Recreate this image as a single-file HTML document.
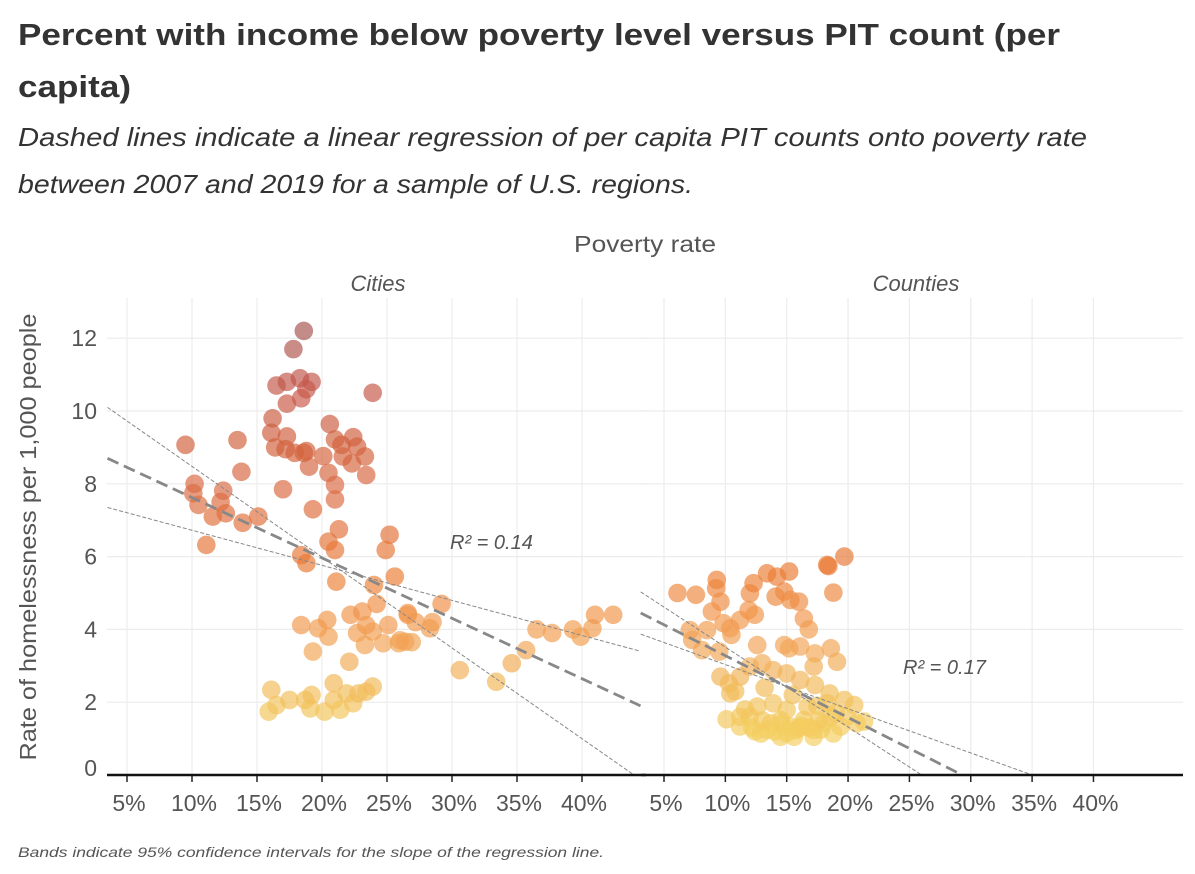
<!DOCTYPE html>
<html><head><meta charset="utf-8"><style>
body{margin:0;background:#fff;width:1195px;height:874px;overflow:hidden;font-family:"Liberation Sans",sans-serif}
svg{display:block}
</style></head><body>
<svg width="1195" height="874">
<text x="18" y="45" font-size="31" font-weight="bold" fill="#333" textLength="1042" lengthAdjust="spacingAndGlyphs">Percent with income below poverty level versus PIT count (per</text>
<text x="18" y="97" font-size="31" font-weight="bold" fill="#333" textLength="113" lengthAdjust="spacingAndGlyphs">capita)</text>
<text x="18" y="146" font-size="26" font-style="italic" fill="#333" textLength="1069" lengthAdjust="spacingAndGlyphs">Dashed lines indicate a linear regression of per capita PIT counts onto poverty rate</text>
<text x="18" y="193" font-size="26" font-style="italic" fill="#333" textLength="675" lengthAdjust="spacingAndGlyphs">between 2007 and 2019 for a sample of U.S. regions.</text>
<text x="645" y="252" font-size="23" fill="#555" text-anchor="middle" textLength="142" lengthAdjust="spacingAndGlyphs">Poverty rate</text>
<text x="378" y="291" font-size="22" font-style="italic" fill="#555" text-anchor="middle">Cities</text>
<text x="916" y="291" font-size="22" font-style="italic" fill="#555" text-anchor="middle">Counties</text>
<text transform="translate(36,537) rotate(-90)" font-size="23" fill="#555" text-anchor="middle" textLength="447" lengthAdjust="spacingAndGlyphs">Rate of homelessness per 1,000 people</text>
<g id="plot"></g>
<text x="18" y="857" font-size="14" font-style="italic" fill="#555" textLength="586" lengthAdjust="spacingAndGlyphs">Bands indicate 95% confidence intervals for the slope of the regression line.</text>
</svg>
<script>
const xTicks=[5,10,15,20,25,30,35,40];
const yTicks=[0,2,4,6,8,10,12];
const citiesX=[9.5,18.6,17.8,16.5,17.3,18.3,19.2,18.8,18.4,17.3,23.9,16.2,16.1,17.3,16.4,17.2,17.9,18.6,18.8,19.0,20.1,20.6,21.0,21.5,21.6,22.4,22.7,22.3,23.3,23.4,20.5,21.0,21.0,17.0,19.3,13.5,13.8,10.2,10.1,10.5,11.6,12.2,12.4,12.6,13.9,15.1,11.1,21.3,20.5,21.0,18.4,18.8,21.1,25.2,24.9,25.6,24.0,24.2,18.4,19.3,19.7,20.4,20.5,22.2,22.1,22.7,23.1,23.4,23.3,23.9,24.7,25.1,25.9,26.6,26.4,16.1,15.9,16.5,17.5,18.7,19.1,19.2,20.2,20.9,20.9,21.4,21.9,22.4,22.8,23.4,23.9,29.2,26.6,27.2,28.5,28.3,26.0,26.9,30.6,33.4,34.6,35.7,36.5,37.7,39.3,39.9,40.8,41.0,42.4];
const citiesY=[9.07,12.2,11.7,10.7,10.8,10.9,10.8,10.6,10.35,10.2,10.5,9.8,9.4,9.3,9.0,8.95,8.85,8.85,8.9,8.47,8.76,9.64,9.22,9.07,8.75,9.28,9.02,8.56,8.75,8.24,8.3,7.97,7.57,7.85,7.3,9.2,8.33,8.0,7.74,7.42,7.1,7.5,7.81,7.19,6.93,7.1,6.32,6.75,6.41,6.18,6.04,5.82,5.31,6.6,6.18,5.45,5.22,4.7,4.12,3.39,4.03,4.26,3.8,4.4,3.11,3.9,4.49,4.12,3.57,3.94,3.62,4.12,3.62,4.4,3.66,2.34,1.74,1.92,2.06,2.06,1.83,2.2,1.74,2.52,2.06,1.79,2.24,1.97,2.24,2.29,2.43,4.7,4.45,4.2,4.2,4.03,3.7,3.65,2.88,2.56,3.07,3.43,4.0,3.9,4.0,3.8,4.03,4.4,4.4];
const countiesX=[6.1,7.6,9.3,9.25,9.6,8.9,9.85,10.4,10.5,11.2,12.0,12.3,11.9,12.4,13.4,14.2,15.2,14.8,14.1,15.3,16.0,18.3,18.4,19.7,18.8,16.4,16.8,7.1,7.3,8.1,8.5,9.5,12.6,14.8,15.2,16.1,17.3,18.6,19.1,17.2,9.6,10.3,10.4,11.2,12.0,13.0,13.9,15.0,16.1,17.3,18.5,19.7,20.5,21.3,10.1,11.2,12.0,12.9,13.7,14.5,15.3,15.6,16.4,17.2,18.0,18.8,19.4,19.9,20.7,12.6,13.9,15.0,16.7,18.3,11.2,14.5,13.4,15.8,17.2,14.0,16.0,17.8,12.2,19.0,10.8,13.2,15.5,17.5,13.0,14.6,16.2,17.6,18.6,12.4,15.0,16.8,11.6];
const countiesY=[5.0,4.95,5.36,5.13,4.76,4.49,4.17,4.03,3.85,4.26,4.99,5.27,4.53,4.40,5.54,5.45,5.59,5.04,4.9,4.81,4.76,5.77,5.74,6.0,5.01,4.3,4.0,3.98,3.71,3.43,3.98,3.39,3.57,3.57,3.48,3.53,3.34,3.48,3.11,2.98,2.70,2.52,2.24,2.70,2.98,3.07,2.88,2.79,2.61,2.47,2.24,2.06,1.92,1.47,1.53,1.33,1.6,1.14,1.42,1.05,1.33,1.05,1.51,1.24,1.42,1.14,1.33,1.6,1.42,1.88,1.97,1.79,1.88,1.97,1.6,1.51,1.24,1.24,1.05,1.2,1.3,1.25,1.3,1.7,2.3,2.4,2.2,1.9,1.5,1.4,1.35,1.5,1.6,1.2,1.15,1.3,1.8];
// regression lines: [x0, y0, x1, y1] in data units
const citiesFit=[3.5,8.7,44.5,1.9];
const citiesHi=[3.5,10.1,44,0];
const citiesLo=[3.5,7.35,44.5,3.4];
const countiesFit=[3.1,4.45,29.3,0];
const countiesHi=[3.1,5.03,26,0];
const countiesLo=[3.1,3.87,35,0];
const r2Labels=["R² = 0.14","R² = 0.17"];

const NS="http://www.w3.org/2000/svg";
const plot=document.getElementById('plot');
function mk(tag,attrs,parent){const e=document.createElementNS(NS,tag);for(const k in attrs)e.setAttribute(k,attrs[k]);(parent||plot).appendChild(e);return e;}
const yScale=v=>775-36.4*v;
const panels=[
 {name:'cities',x0:107,x1:646,px:p=>127+(p-5)*13,X:citiesX,Y:citiesY,fit:citiesFit,hi:citiesHi,lo:citiesLo,r2x:450,r2y:549,r2:r2Labels[0]},
 {name:'counties',x0:641,x1:1183,px:p=>664+(p-5)*12.27,X:countiesX,Y:countiesY,fit:countiesFit,hi:countiesHi,lo:countiesLo,r2x:903,r2y:674,r2:r2Labels[1]}
];
const stops=[[1.2,[243,206,96]],[2.2,[242,190,90]],[3.5,[242,165,86]],[4.5,[240,148,74]],[5.5,[236,125,53]],[6.5,[228,116,58]],[8,[217,106,69]],[9,[210,98,60]],[10.5,[199,88,74]],[12.2,[166,85,80]]];
function col(v){if(v<=stops[0][0])return 'rgb('+stops[0][1]+')';for(let i=1;i<stops.length;i++){if(v<=stops[i][0]){const a=stops[i-1],b=stops[i],t=(v-a[0])/(b[0]-a[0]);return 'rgb('+a[1].map((c,j)=>Math.round(c+(b[1][j]-c)*t)).join(',')+')';}}return 'rgb('+stops[stops.length-1][1]+')';}
yTicks.forEach(t=>{
 const tl=mk('text',{x:97,y:yScale(t)+8+(t===0?-7:0),'font-size':23,fill:'#555','text-anchor':'end'});
 
 
 tl.textContent=t;
});
panels.forEach(P=>{
 const g=mk('g',{});
 
 
 yTicks.forEach(t=>{if(t===0)return;const l=mk('line',{x1:P.x0,x2:P.x1,y1:yScale(t),y2:yScale(t),stroke:'#ececec','stroke-width':1.2},g);
  
  });
 xTicks.forEach(t=>{const x=P.px(t);const l=mk('line',{x1:x,x2:x,y1:298,y2:775,stroke:'#ececec','stroke-width':1.2},g);
  
  
  const tk=mk('line',{x1:x,x2:x,y1:775,y2:782,stroke:'#222','stroke-width':1.5},g);
  
  
  const tl=mk('text',{x:x+2,y:811,'font-size':23,fill:'#555','text-anchor':'middle'},g);
  
  
  tl.textContent=t+'%';});
 P.X.forEach((p,i)=>{const c=mk('circle',{cx:P.px(p),cy:yScale(P.Y[i]),r:9.3,fill:col(P.Y[i]),'fill-opacity':0.68},g);
  
  });
 const clip=(a)=>{let [xa,ya,xb,yb]=a;return [P.px(xa),yScale(ya),P.px(xb),yScale(yb)];};
 [[P.hi,1,'4 2','upper-ci-line'],[P.lo,1,'4 2','lower-ci-line'],[P.fit,2.8,'12 6','regression-line']].forEach(([d,w,da,nm])=>{
  const c=clip(d);const l=mk('line',{x1:c[0],y1:c[1],x2:c[2],y2:c[3],stroke:'#888','stroke-width':w,'stroke-dasharray':da},g);
  
  });
 const ax=mk('line',{x1:P.x0,x2:P.x1,y1:775,y2:775,stroke:'#111','stroke-width':2.5},g);
 
 
 const r=mk('text',{x:P.r2x,y:P.r2y,'font-size':20,'font-style':'italic',fill:'#555'},g);
 
 
 r.textContent=P.r2;
});
</script>
</body></html>
